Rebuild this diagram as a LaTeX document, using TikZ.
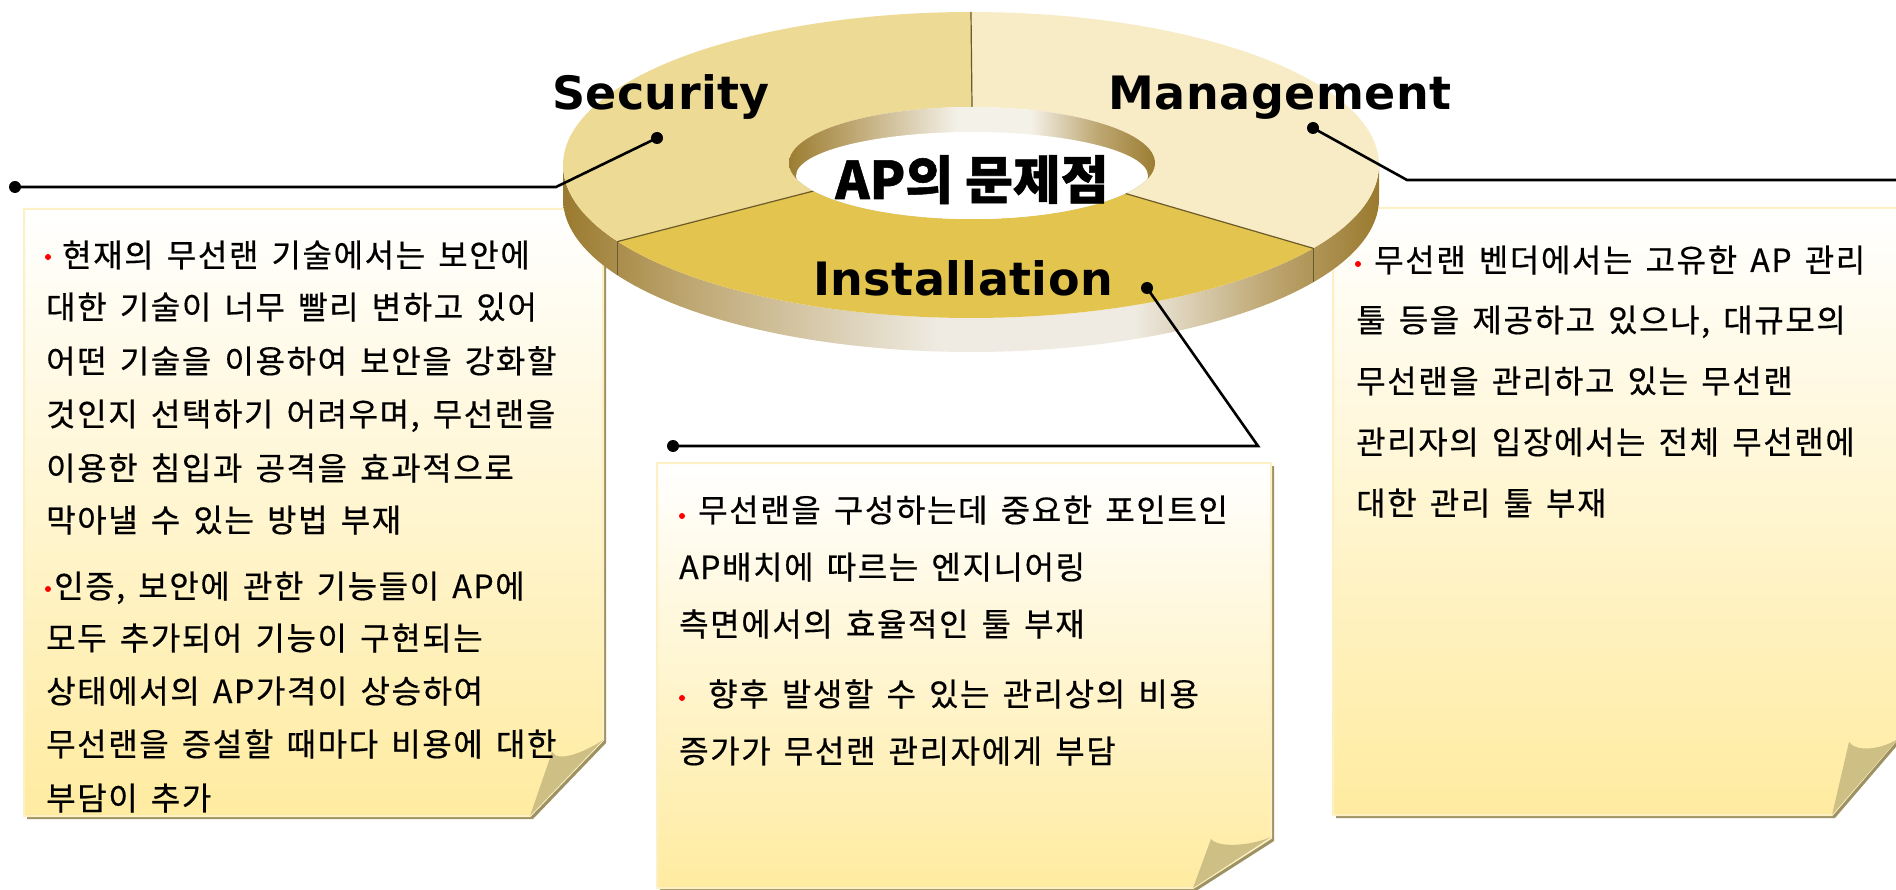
\documentclass[tikz,border=0pt]{standalone}
\usepackage{fontspec}
\newfontfamily\krfont{Noto Sans CJK KR}[LetterSpace=5,WordSpace=1.5,FakeBold=0.5]
\newfontfamily\krhead{Noto Sans CJK KR}[BoldFeatures={FakeBold=1}]
\newfontfamily\latbold{DejaVu Sans}[LetterSpace=1]
\definecolor{secY}{HTML}{EDDA95}
\definecolor{mgmtY}{HTML}{F8ECC6}
\definecolor{instY}{HTML}{E3C44E}
\definecolor{sideDark}{HTML}{9A7A2E}
\definecolor{sideMid}{HTML}{BFA874}
\definecolor{sideLight}{HTML}{EFEBE2}
\definecolor{holeDark}{HTML}{9C7D32}
\definecolor{holeLight}{HTML}{F4F1E8}
\definecolor{divC}{HTML}{6B5A2A}
\definecolor{noteBot}{HTML}{FFEBA0}
\definecolor{noteEdge}{HTML}{FCF0C4}
\definecolor{flapC}{HTML}{CEBF85}
\definecolor{shadowC}{HTML}{9E9262}
\pgfdeclarehorizontalshading{sideshade}{100bp}{color(0bp)=(sideDark); color(25bp)=(sideDark); color(33bp)=(sideMid); color(48bp)=(sideLight); color(60bp)=(sideLight); color(68bp)=(sideMid); color(75bp)=(sideDark); color(100bp)=(sideDark)}
\pgfdeclarehorizontalshading{holeshade}{100bp}{color(0bp)=(holeDark); color(25bp)=(holeDark); color(34bp)=(sideMid); color(48bp)=(holeLight); color(58bp)=(holeLight); color(67bp)=(sideMid); color(75bp)=(holeDark); color(100bp)=(holeDark)}
\begin{document}
\begin{tikzpicture}[x=1pt,y=-1pt,
  bodytext/.style={anchor=base west, inner sep=0pt, font=\krfont\fontsize{32}{38}\selectfont, text=black},
  reddot/.style={circle, fill=red, inner sep=0pt, minimum size=6pt},
  blackdot/.style={circle, fill=black, inner sep=0pt, minimum size=12pt},
  leader/.style={line width=2.6pt, black},
  divline/.style={draw=divC, line width=1.2pt},
  ringlabel/.style={font=\latbold\bfseries\fontsize{46}{50}\selectfont, anchor=base, inner sep=0pt},
  notefill/.style={top color=white, bottom color=noteBot, draw=noteEdge, line width=2pt},
  noteshadow/.style={fill=shadowC},
  flap/.style={fill=flapC}
]
\useasboundingbox (0,0) rectangle (1896,890);
\fill[white] (0,0) rectangle (1896,890);

% ---------- note boxes ----------
% Security box
\fill[noteshadow] (27,212) -- (606,212) -- (606,743) -- (533,819) -- (27,819) -- cycle;
\shade[notefill] (24,209) -- (603,209) -- (603,740) -- (530,816) -- (24,816) -- cycle;
\fill[flap] (530,816) -- (552,752) .. controls (558,763) and (585,752) .. (603,740) -- cycle;
% Installation box
\fill[noteshadow] (660,466) -- (1274,466) -- (1274,841) -- (1196,891) -- (660,891) -- cycle;
\shade[notefill] (657,463) -- (1271,463) -- (1271,838) -- (1193,888) -- (657,888) -- cycle;
\fill[flap] (1193,888) -- (1211,839) .. controls (1218,848) and (1250,846) .. (1271,837) -- cycle;
% Management box
\fill[noteshadow] (1336,211) -- (1901,211) -- (1901,741) -- (1835,818) -- (1336,818) -- cycle;
\shade[notefill] (1333,208) -- (1898,208) -- (1898,738) -- (1832,815) -- (1333,815) -- cycle;
\fill[flap] (1832,815) -- (1849,742) .. controls (1856,752) and (1880,750) .. (1898,739) -- cycle;

% ---------- ring ----------
\shade[shading=sideshade] plot[domain=0:180,samples=90] ({971+408*cos(\x)},{199+153*sin(\x)})
   -- plot[domain=180:0,samples=90] ({971+408*cos(\x)},{165+153*sin(\x)}) -- cycle;
\fill[secY] plot[domain=150:270,samples=70] ({971+408*cos(\x)},{165+153*sin(\x)})
   -- plot[domain=270:150,samples=50] ({972+183*cos(\x)},{163+56*sin(\x)}) -- cycle;
\fill[mgmtY] plot[domain=-90:33,samples=70] ({971+408*cos(\x)},{165+153*sin(\x)})
   -- plot[domain=33:-90,samples=50] ({972+183*cos(\x)},{163+56*sin(\x)}) -- cycle;
\fill[instY] plot[domain=33:150,samples=70] ({971+408*cos(\x)},{165+153*sin(\x)})
   -- plot[domain=150:33,samples=50] ({972+183*cos(\x)},{163+56*sin(\x)}) -- cycle;
% dividers
\draw[divline] (971,12) -- (972,107);
\draw[divline] (617.7,241.5) -- (813.5,191);
\draw[divline] (1313.2,248.3) -- (1125.5,193.5);
\draw[divline] (617.7,241.5) -- (617.7,275.5);
\draw[divline] (1313.2,248.3) -- (1313.2,282.3);
% hole
\shade[shading=holeshade] (972,163) ellipse [x radius=183, y radius=56];
\begin{scope}
  \clip (972,163) ellipse [x radius=183, y radius=56];
  \fill[white] (972,176) ellipse [x radius=176, y radius=44];
\end{scope}

% ---------- labels on ring ----------
\node[ringlabel] (lsec) at (661,110) {Security};
\node[ringlabel] (lmgmt) at (1280,110) {Management};
\node[ringlabel] (linst) at (963,296) {Installation};
\node[anchor=base, inner sep=0pt, font=\krhead\bfseries\fontsize{52}{56}\selectfont] (center) at (972,199) {AP의 문제점};

% ---------- leaders ----------
\node[blackdot] (sd) at (657,138) {};
\node[blackdot] (se) at (15,187) {};
\coordinate (sc) at (556,187);
\draw[leader] (sd.center) -- (sc) -- (se.center);
\node[blackdot] (md) at (1313,128) {};
\coordinate (mc) at (1407,180);
\coordinate (me) at (1900,180);
\draw[leader] (md.center) -- (mc) -- (me);
\node[blackdot] (idot) at (1147,288) {};
\node[blackdot] (ie) at (673,446) {};
\coordinate (ic) at (1258,446);
\draw[leader] (idot.center) -- (ic) -- (ie.center);

% ---------- Security text ----------
\node[reddot] (sb1) at (48,257) {};
\node[bodytext] (s1) at (62,267) {현재의 무선랜 기술에서는 보안에};
\node[bodytext] (s2) at (46,319) {대한 기술이 너무 빨리 변하고 있어};
\node[bodytext] (s3) at (46,373) {어떤 기술을 이용하여 보안을 강화할};
\node[bodytext] (s4) at (46,426) {것인지 선택하기 어려우며, 무선랜을};
\node[bodytext] (s5) at (46,480) {이용한 침입과 공격을 효과적으로};
\node[bodytext] (s6) at (46,532) {막아낼 수 있는 방법 부재};
\node[reddot] (sb2) at (48,589) {};
\node[bodytext] (s7) at (54,598) {인증, 보안에 관한 기능들이 AP에};
\node[bodytext] (s8) at (46,650) {모두 추가되어 기능이 구현되는};
\node[bodytext] (s9) at (46,703) {상태에서의 AP가격이 상승하여};
\node[bodytext] (s10) at (46,756) {무선랜을 증설할 때마다 비용에 대한};
\node[bodytext] (s11) at (46,810) {부담이 추가};

% ---------- Installation text ----------
\node[reddot] (ib1) at (682,516) {};
\node[bodytext] (i1) at (698,522) {무선랜을 구성하는데 중요한 포인트인};
\node[bodytext] (i2) at (679,579) {AP배치에 따르는 엔지니어링};
\node[bodytext] (i3) at (679,636) {측면에서의 효율적인 툴 부재};
\node[reddot] (ib2) at (682,698) {};
\node[bodytext] (i4) at (708,706) {향후 발생할 수 있는 관리상의 비용};
\node[bodytext] (i5) at (679,763) {증가가 무선랜 관리자에게 부담};

% ---------- Management text ----------
\node[reddot] (mb1) at (1358,264) {};
\node[bodytext] (m1) at (1374,272) {무선랜 벤더에서는 고유한 AP 관리};
\node[bodytext] (m2) at (1356,332) {툴 등을 제공하고 있으나, 대규모의};
\node[bodytext] (m3) at (1356,393) {무선랜을 관리하고 있는 무선랜};
\node[bodytext] (m4) at (1356,454) {관리자의 입장에서는 전체 무선랜에};
\node[bodytext] (m5) at (1356,515) {대한 관리 툴 부재};
\end{tikzpicture}
\end{document}
